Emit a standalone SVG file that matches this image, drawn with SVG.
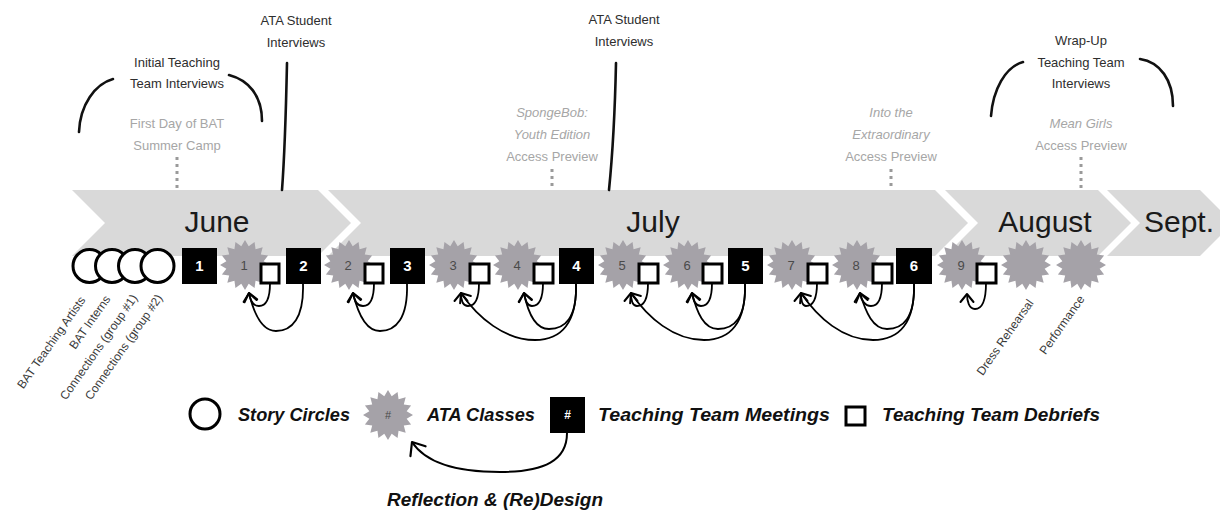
<svg xmlns="http://www.w3.org/2000/svg" width="1220" height="510" viewBox="0 0 1220 510">
<defs>
<style>
.band{fill:#d9d9d9}
.month{font-family:"Liberation Sans",Arial,sans-serif;font-size:30px;fill:#1a1a1a;text-anchor:middle}
.note{font-family:"Liberation Sans",Arial,sans-serif;font-size:13px;fill:#2e2e2e;text-anchor:middle}
.event{font-family:"Liberation Sans",Arial,sans-serif;font-size:13px;fill:#a6a6a6;text-anchor:middle}
.show{font-style:italic}
.dots{stroke:#9a9a9a;stroke-width:3;stroke-dasharray:3 4;fill:none}
.brush{fill:none;stroke:#111;stroke-width:2.6;stroke-linecap:round}
.circle{fill:#fff;stroke:#000;stroke-width:3}
.meet{fill:#000}
.meet-num{font-family:"Liberation Sans",Arial,sans-serif;font-weight:bold;font-size:15px;fill:#fff;text-anchor:middle}
.star{fill:#a5a2a8}
.class-num{font-family:"Liberation Sans",Arial,sans-serif;font-size:13px;fill:#4a4a4a;text-anchor:middle}
.debrief{fill:#fff;stroke:#000;stroke-width:3}
.rot{font-family:"Liberation Sans",Arial,sans-serif;font-size:12px;fill:#3a3a3a;text-anchor:end}
.link{fill:none;stroke:#000;stroke-width:1.8;marker-end:url(#ah)}
.link-big{fill:none;stroke:#000;stroke-width:2;marker-end:url(#ah-big)}
.legend{font-family:"Liberation Sans",Arial,sans-serif;font-size:19px;font-weight:bold;font-style:italic;fill:#111}
</style>
<!-- 16-point starburst used for the ATA class markers -->
<path id="star" d="M0,-25 L3.71,-18.64 L9.57,-23.1 L10.56,-15.8 L17.68,-17.68 L15.8,-10.56 L23.1,-9.57 L18.64,-3.71 L25,0 L18.64,3.71 L23.1,9.57 L15.8,10.56 L17.68,17.68 L10.56,15.8 L9.57,23.1 L3.71,18.64 L0,25 L-3.71,18.64 L-9.57,23.1 L-10.56,15.8 L-17.68,17.68 L-15.8,10.56 L-23.1,9.57 L-18.64,3.71 L-25,0 L-18.64,-3.71 L-23.1,-9.57 L-15.8,-10.56 L-17.68,-17.68 L-10.56,-15.8 L-9.57,-23.1 L-3.71,-18.64 Z"/>
<marker id="ah" viewBox="0 0 20 20" refX="10" refY="10" markerWidth="20" markerHeight="20" markerUnits="userSpaceOnUse" orient="auto">
<path d="M2,3.5 L10,10 L2,16.5" fill="none" stroke="#000" stroke-width="2" stroke-linecap="round" stroke-linejoin="round"/>
</marker>
<marker id="ah-big" viewBox="0 0 30 30" refX="15" refY="15" markerWidth="30" markerHeight="30" markerUnits="userSpaceOnUse" orient="auto">
<path d="M4,6 L15,15 L4,24" fill="none" stroke="#000" stroke-width="2.2" stroke-linecap="round" stroke-linejoin="round"/>
</marker>
</defs>

<rect width="1220" height="510" fill="#fff"/>

<!-- month chevrons -->
<g id="months">
<g id="june"><polygon class="band" points="72,190 318,190 351,223 318,256 72,256 105,223"/><text class="month" x="217" y="232">June</text></g>
<g id="july"><polygon class="band" points="328,190 935,190 968,223 935,256 328,256 361,223"/><text class="month" x="653" y="232">July</text></g>
<g id="august"><polygon class="band" points="945,190 1098,190 1131,223 1098,256 945,256 978,223"/><text class="month" x="1045" y="232">August</text></g>
<g id="sept"><polygon class="band" points="1107,190 1200,190 1233,223 1200,256 1107,256 1140,223"/><text class="month" x="1179" y="232">Sept.</text></g>
</g>

<!-- interview annotations above the timeline -->
<g id="initial-interviews">
<text class="note"><tspan x="177" y="67">Initial Teaching</tspan><tspan x="177" y="88">Team Interviews</tspan></text>
<path class="brush" d="M79,132 C80,105 95,84 113,79"/>
<path class="brush" d="M229,75 C248,80 262,95 262,121"/>
</g>
<g id="student-interviews-1">
<text class="note"><tspan x="296" y="25">ATA Student</tspan><tspan x="296" y="47">Interviews</tspan></text>
<path class="brush" d="M287,63 C286,110 285,150 282,190"/>
</g>
<g id="student-interviews-2">
<text class="note"><tspan x="624" y="24">ATA Student</tspan><tspan x="624" y="46">Interviews</tspan></text>
<path class="brush" d="M616,63 C615,110 613,150 609,190"/>
</g>
<g id="wrapup-interviews">
<text class="note"><tspan x="1081" y="45">Wrap-Up</tspan><tspan x="1081" y="67">Teaching Team</tspan><tspan x="1081" y="88">Interviews</tspan></text>
<path class="brush" d="M991,116 C993,90 1005,67 1023,62"/>
<path class="brush" d="M1140,59 C1160,62 1173,80 1173,106"/>
</g>

<!-- camp events -->
<g id="first-day">
<text class="event"><tspan x="177" y="128">First Day of BAT</tspan><tspan x="177" y="150">Summer Camp</tspan></text>
<line class="dots" x1="177" y1="157" x2="177" y2="190"/>
</g>
<g id="spongebob">
<text class="event"><tspan class="show" x="552" y="117">SpongeBob:</tspan><tspan class="show" x="552" y="139">Youth Edition</tspan><tspan x="552" y="161">Access Preview</tspan></text>
<line class="dots" x1="552" y1="169" x2="552" y2="190"/>
</g>
<g id="extraordinary">
<text class="event"><tspan class="show" x="891" y="117">Into the</tspan><tspan class="show" x="891" y="139">Extraordinary</tspan><tspan x="891" y="161">Access Preview</tspan></text>
<line class="dots" x1="891" y1="169" x2="891" y2="190"/>
</g>
<g id="mean-girls">
<text class="event"><tspan class="show" x="1081" y="128">Mean Girls</tspan><tspan x="1081" y="150">Access Preview</tspan></text>
<line class="dots" x1="1081" y1="157" x2="1081" y2="190"/>
</g>

<!-- story circles -->
<g id="story-circles">
<circle class="circle" cx="89.5" cy="266" r="16.5"/>
<circle class="circle" cx="112" cy="266" r="16.5"/>
<circle class="circle" cx="135" cy="266" r="16.5"/>
<circle class="circle" cx="157.5" cy="266" r="16.5"/>
<text class="rot" transform="translate(86,300) rotate(-55)">BAT Teaching Artists</text>
<text class="rot" transform="translate(111,299) rotate(-55)">BAT Interns</text>
<text class="rot" transform="translate(138,298) rotate(-55)">Connections (group #1)</text>
<text class="rot" transform="translate(163,298) rotate(-55)">Connections (group #2)</text>
</g>

<!-- teaching team meetings -->
<g id="meeting-1"><rect class="meet" x="182" y="248" width="35" height="36"/><text class="meet-num" x="199.5" y="271">1</text></g>
<g id="meeting-2"><rect class="meet" x="286" y="248" width="35" height="36"/><text class="meet-num" x="303.5" y="271">2</text></g>
<g id="meeting-3"><rect class="meet" x="390" y="248" width="35" height="36"/><text class="meet-num" x="407.5" y="271">3</text></g>
<g id="meeting-4"><rect class="meet" x="559" y="248" width="35" height="36"/><text class="meet-num" x="576.5" y="271">4</text></g>
<g id="meeting-5"><rect class="meet" x="728" y="248" width="35" height="36"/><text class="meet-num" x="745.5" y="271">5</text></g>
<g id="meeting-6"><rect class="meet" x="896" y="248" width="36" height="36"/><text class="meet-num" x="914" y="271">6</text></g>

<!-- ATA classes with their debrief squares -->
<g id="class-1"><use href="#star" class="star" x="245" y="265"/><text class="class-num" x="244" y="270">1</text><rect class="debrief" x="261" y="264" width="18" height="19"/></g>
<g id="class-2"><use href="#star" class="star" x="349" y="265"/><text class="class-num" x="348" y="270">2</text><rect class="debrief" x="365" y="264" width="18" height="19"/></g>
<g id="class-3"><use href="#star" class="star" x="454" y="265"/><text class="class-num" x="453" y="270">3</text><rect class="debrief" x="470" y="264" width="19" height="19"/></g>
<g id="class-4"><use href="#star" class="star" x="518" y="265"/><text class="class-num" x="517" y="270">4</text><rect class="debrief" x="534" y="264" width="19" height="19"/></g>
<g id="class-5"><use href="#star" class="star" x="623" y="265"/><text class="class-num" x="622" y="270">5</text><rect class="debrief" x="639" y="264" width="19" height="19"/></g>
<g id="class-6"><use href="#star" class="star" x="688" y="265"/><text class="class-num" x="687" y="270">6</text><rect class="debrief" x="703" y="264" width="19" height="19"/></g>
<g id="class-7"><use href="#star" class="star" x="792" y="265"/><text class="class-num" x="791" y="270">7</text><rect class="debrief" x="808" y="264" width="19" height="19"/></g>
<g id="class-8"><use href="#star" class="star" x="857" y="265"/><text class="class-num" x="856" y="270">8</text><rect class="debrief" x="873" y="264" width="19" height="19"/></g>
<g id="class-9"><use href="#star" class="star" x="962" y="265"/><text class="class-num" x="961" y="270">9</text><rect class="debrief" x="977" y="264" width="19" height="19"/></g>
<g id="dress-rehearsal"><use href="#star" class="star" x="1026" y="265"/><text class="rot" transform="translate(1034,303) rotate(-55)">Dress Rehearsal</text></g>
<g id="performance"><use href="#star" class="star" x="1081" y="265"/><text class="rot" transform="translate(1085,299) rotate(-55)">Performance</text></g>

<!-- reflection loops: debriefs and meetings feeding back into classes -->
<g id="connectors">
<path class="link" d="M270,283 C270,299 266,306 259,306 C253,306 250,300 249,293"/>
<path class="link" d="M303,284 C304,318 292,331 276,331 C262,331 254,314 249,293"/>
<path class="link" d="M374,283 C374,299 370,306 363,306 C357,306 354,300 353,293"/>
<path class="link" d="M407,284 C408,318 396,331 380,331 C366,331 358,314 353,293"/>
<path class="link" d="M479,283 C479,299 475,306 468,306 C463,306 461,300 461,293"/>
<path class="link" d="M543,283 C543,299 539,306 532,306 C527,306 525,300 524,293"/>
<path class="link" d="M576,284 C577,318 565,329 549,329 C535,329 528,313 524,293"/>
<path class="link" d="M576,284 C577,322 562,340 535,340 C505,340 478,318 461,293"/>
<path class="link" d="M648,283 C648,299 644,306 637,306 C632,306 631,300 631,293"/>
<path class="link" d="M712,283 C712,299 708,306 701,306 C695,306 693,300 692,293"/>
<path class="link" d="M745,284 C746,318 734,329 718,329 C704,329 697,313 692,293"/>
<path class="link" d="M745,284 C746,322 731,340 704,340 C674,340 648,318 631,293"/>
<path class="link" d="M817,283 C817,299 813,306 806,306 C802,306 801,300 801,293"/>
<path class="link" d="M882,283 C882,299 878,306 871,306 C865,306 861,300 860,293"/>
<path class="link" d="M914,284 C915,318 903,329 887,329 C873,329 866,313 860,293"/>
<path class="link" d="M914,284 C915,322 900,340 873,340 C843,340 818,318 801,293"/>
<path class="link" d="M986,283 C986,301 982,309 975,309 C969,309 967,301 967,294"/>
<path class="link-big" d="M567,433 C567,460 545,472 500,472 C455,472 425,462 412,442"/>
</g>

<!-- legend -->
<g id="legend-circle"><circle class="circle" cx="205" cy="414" r="15"/><text class="legend" x="238" y="421" textLength="112" lengthAdjust="spacingAndGlyphs">Story Circles</text></g>
<g id="legend-class"><use href="#star" class="star" x="388" y="415"/><text class="class-num" x="388" y="419" style="font-size:11px">#</text><text class="legend" x="427" y="421" textLength="108" lengthAdjust="spacingAndGlyphs">ATA Classes</text></g>
<g id="legend-meeting"><rect class="meet" x="550" y="397" width="35" height="36"/><text class="meet-num" x="567.5" y="419" style="font-size:12px">#</text><text class="legend" x="598" y="421" textLength="232" lengthAdjust="spacingAndGlyphs">Teaching Team Meetings</text></g>
<g id="legend-debrief"><rect class="debrief" x="846" y="407" width="19" height="18"/><text class="legend" x="882" y="421" textLength="218" lengthAdjust="spacingAndGlyphs">Teaching Team Debriefs</text></g>
<g id="legend-reflection"><text class="legend" x="387" y="506" textLength="216" lengthAdjust="spacingAndGlyphs">Reflection &amp; (Re)Design</text></g>
</svg>
